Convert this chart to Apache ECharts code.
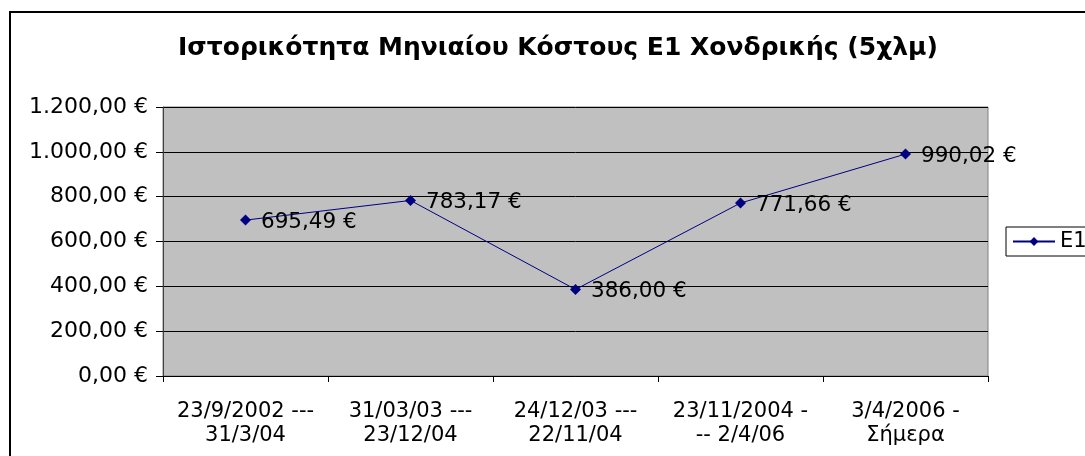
<!DOCTYPE html>
<html lang="el">
<head>
  <meta charset="UTF-8">
  <title>Ιστορικότητα Μηνιαίου Κόστους Ε1 Χονδρικής (5χλμ)</title>
  <script src="https://cdn.jsdelivr.net/npm/echarts@6.0.0/dist/echarts.min.js"></script>
  <style>
    html, body { margin: 0; padding: 0; background: #ffffff; }
    #chart { width: 1085px; height: 456px; }
  </style>
</head>
<body>
  <div id="chart"></div>
  <script>
    // δεδομένα
    const categories = [
      '23/9/2002 ---\n31/3/04',
      '31/03/03 ---\n23/12/04',
      '24/12/03 ---\n22/11/04',
      '23/11/2004 -\n-- 2/4/06',
      '3/4/2006 -\nΣήμερα'
    ];
    const e1Values = [695.49, 783.17, 386.00, 771.66, 990.02];
    const seriesName = 'E1';
    const titleText = 'Ιστορικότητα Μηνιαίου Κόστους Ε1 Χονδρικής (5χλμ)';

    // μορφή 1.200,00 €
    function euro(v) {
      const parts = Number(v).toFixed(2).split('.');
      const intPart = parts[0].replace(/\B(?=(\d{3})+(?!\d))/g, '.');
      return intPart + ',' + parts[1] + ' €';
    }

    const font = 'DejaVu Sans, Verdana, sans-serif';
    const chart = echarts.init(document.getElementById('chart'));

    chart.setOption({
      backgroundColor: '#ffffff',
      animation: false,
      textStyle: { fontFamily: font },
      title: {
        text: titleText,
        left: 553,
        top: 31,
        textAlign: 'center',
        textStyle: { fontFamily: font, fontSize: 25, fontWeight: 'bold', color: '#000' }
      },
      graphic: [{
        type: 'rect',
        shape: { x: 10, y: 12, width: 1200, height: 600 },
        style: { fill: 'none', stroke: '#000', lineWidth: 2 },
        silent: true,
        z: -1
      }],
      legend: {
        data: [seriesName],
        left: 1006,
        top: 227,
        padding: [4, 6, 4, 6],
        itemWidth: 42,
        itemHeight: 11,
        itemGap: 4,
        borderColor: '#000',
        borderWidth: 1,
        backgroundColor: '#fff',
        textStyle: { fontFamily: font, fontSize: 21, color: '#000' }
      },
      grid: {
        left: 163, top: 107, right: 97, bottom: 80,
        show: true,
        backgroundColor: '#C0C0C0',
        borderColor: '#808080',
        borderWidth: 1
      },
      xAxis: {
        type: 'category',
        data: categories,
        boundaryGap: true,
        axisLine: { lineStyle: { color: '#000', width: 1 } },
        axisTick: { show: true, length: 6, lineStyle: { color: '#000' } },
        axisLabel: {
          color: '#000', fontFamily: font, fontSize: 21, lineHeight: 24,
          margin: 24, interval: 0
        },
        splitLine: { show: false }
      },
      yAxis: {
        type: 'value',
        min: 0, max: 1200, interval: 200,
        axisLine: { show: true, lineStyle: { color: '#404040', width: 1 } },
        axisTick: { show: true, length: 7, lineStyle: { color: '#000' } },
        axisLabel: {
          color: '#000', fontFamily: font, fontSize: 22, margin: 15,
          formatter: euro
        },
        splitLine: { show: true, lineStyle: { color: '#000', width: 1 } }
      },
      series: [{
        name: seriesName,
        type: 'line',
        data: e1Values,
        symbol: 'diamond',
        symbolSize: 11,
        itemStyle: { color: '#000080' },
        lineStyle: { color: '#000080', width: 1 },
        label: {
          show: true,
          position: 'right',
          distance: 10,
          offset: [0, 2],
          color: '#000',
          fontFamily: font,
          fontSize: 21.5,
          formatter: p => euro(p.value)
        }
      }]
    });
  </script>
</body>
</html>
